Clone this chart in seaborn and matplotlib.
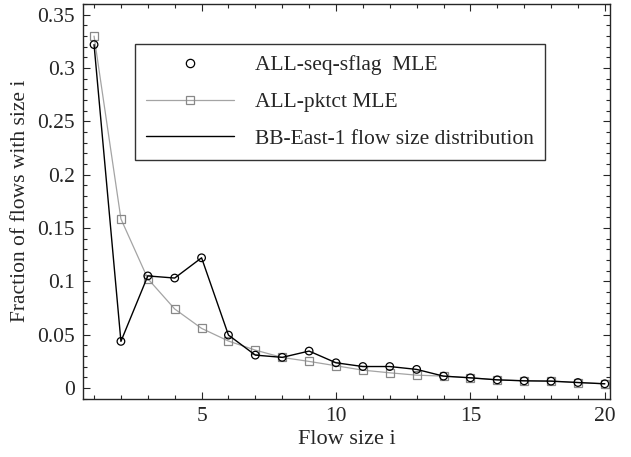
"""
Flow size distribution vs MLE estimates
"""

import matplotlib
matplotlib.use("Agg")
import matplotlib.pyplot as plt
import seaborn as sns
import pandas as pd
from matplotlib.lines import Line2D
from matplotlib.ticker import MultipleLocator

# flow sizes 1..20
flow_size = list(range(1, 21))

# ALL-seq-sflag MLE (circles)
seq_sflag = [0.322, 0.0436, 0.105, 0.103, 0.122, 0.0495, 0.0307, 0.0286, 0.0345, 0.0235,
             0.020, 0.020, 0.0173, 0.011, 0.0094, 0.0075, 0.0066, 0.0063, 0.005, 0.0038]

# ALL-pktct MLE (grey squares)
pktct = [0.330, 0.1585, 0.1024, 0.074, 0.0558, 0.0439, 0.0354, 0.0285, 0.0248, 0.0207,
         0.0166, 0.0141, 0.0119, 0.011, 0.0094, 0.0075, 0.0066, 0.0063, 0.005, 0.0038]

# BB-East-1 actual flow size distribution
actual = [0.322, 0.0436, 0.105, 0.103, 0.122, 0.0495, 0.0307, 0.0286, 0.0345, 0.0235,
          0.020, 0.020, 0.0173, 0.011, 0.0094, 0.0075, 0.0066, 0.0063, 0.005, 0.0038]

labels = ["ALL-seq-sflag  MLE", "ALL-pktct MLE", "BB-East-1 flow size distribution"]

df = pd.DataFrame({"size": flow_size, "seq": seq_sflag, "pkt": pktct, "act": actual})

sns.set_style("ticks")
plt.rcParams["font.family"] = ["Liberation Serif", "DejaVu Serif"]
FS = 15.5
plt.rcParams["font.size"] = FS

fig = plt.figure(figsize=(6.31, 4.57), dpi=100)
ax = fig.add_axes([0.132, 0.128, 0.835, 0.863])

grey_line = "#a4a4a4"
grey_mark = "#888888"
sns.lineplot(data=df, x="size", y="pkt", ax=ax, color=grey_line, lw=0.9,
             marker="s", markersize=5.5, markerfacecolor="none",
             markeredgecolor=grey_mark, markeredgewidth=0.9)
sns.lineplot(data=df, x="size", y="act", ax=ax, color="black", lw=1.0)
sns.scatterplot(data=df, x="size", y="seq", ax=ax, marker="o", s=30,
                facecolor="none", edgecolor="black", linewidth=0.9, zorder=5)

ax.set_xlim(0.6, 20.2)
ax.set_ylim(-0.01, 0.36)
ax.xaxis.set_major_locator(MultipleLocator(5))
ax.xaxis.set_minor_locator(MultipleLocator(1))
ax.yaxis.set_major_locator(MultipleLocator(0.05))
ax.yaxis.set_minor_locator(MultipleLocator(0.01))
ax.set_yticks([0, 0.05, 0.1, 0.15, 0.2, 0.25, 0.3, 0.35])
ax.set_yticklabels(["0", "0.05", "0.1", "0.15", "0.2", "0.25", "0.3", "0.35"])
ax.set_xticks([5, 10, 15, 20])
ax.set_xticklabels(["5", "10", "15", "20"])
ax.tick_params(which="both", direction="in", top=True, right=True, labelsize=FS, pad=6)
ax.tick_params(which="major", length=5, width=0.8)
ax.tick_params(which="minor", length=3, width=0.8)
for sp in ax.spines.values():
    sp.set_linewidth(1.0)

ax.set_xlabel("Flow size i", fontsize=FS + 0.5, labelpad=3)
ax.set_ylabel("Fraction of flows with size i", fontsize=FS, labelpad=5)

handles = [
    Line2D([], [], ls="none", marker="o", markersize=6, markerfacecolor="none",
           markeredgecolor="black", markeredgewidth=0.9),
    Line2D([], [], color=grey_line, lw=0.9, marker="s", markersize=6,
           markerfacecolor="none", markeredgecolor=grey_mark, markeredgewidth=0.9),
    Line2D([], [], color="black", lw=1.0),
]
leg = ax.legend(handles, labels, loc="upper left", bbox_to_anchor=(0.098, 0.898),
                fontsize=FS, frameon=True, fancybox=False, edgecolor="black",
                handlelength=4.1, handletextpad=1.0, borderpad=0.5,
                labelspacing=0.78, borderaxespad=0)
leg.get_frame().set_linewidth(1.0)

fig.savefig("out.png", dpi=100)
